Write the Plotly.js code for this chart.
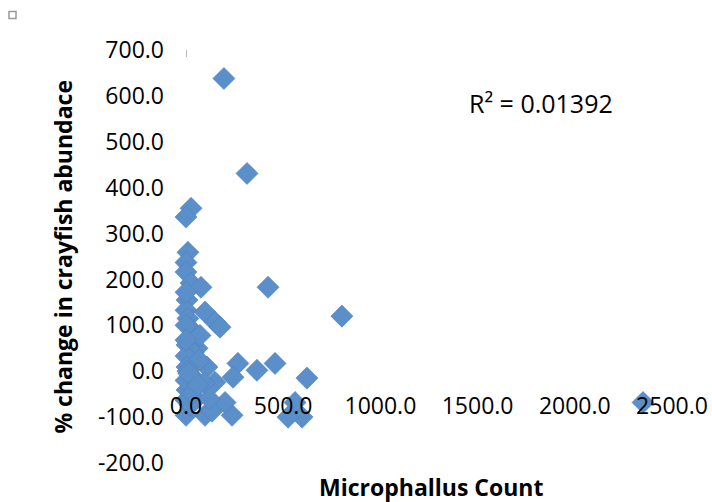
<!DOCTYPE html>
<html>
<head>
<meta charset="utf-8">
<script src="https://cdn.plot.ly/plotly-3.0.1.min.js"></script>
<style>html,body{margin:0;padding:0;background:#fff;}#chart{width:712px;height:502px;}</style>
</head>
<body>
<div id="chart"></div>
<script>
// Microphallus count per site
const microphallusCount = [
  195, 314, 422, 802, 2351, 622, 597, 561, 525, 458, 365, 267, 242, 237, 201, 149, 108, 57, 46, 98, 0,
  26, 0, 10, 0, 0, 26, 77, 5, 0, 98, 10, 149, 175, 21, 72, 5, 36, 0, 67, 5, 36, 93, 5, 46, 134, 21,
  0, 0, 0, 0, 10, 15, 0, 30, 60, 120
];
// % change in crayfish abundance
const crayfishChange = [
  638, 431, 183, 120, -68, -15, -100, -68, -100, 17, 2, 17, -13, -96, -68, -24, 9, 50, -35, -96, -96,
  355, 336, 259, 237, 216, 192, 183, 155, 133, 129, 115, 107, 96, 94, 78, 57, 41, 33, 24, 9, -13, -26, -41, -63, -87, -74,
  100, 68, -20, -63, 0, -5, 172, -50, -30, -60
];
const xTicks = [0, 500, 1000, 1500, 2000, 2500];
const yTicks = [-200, -100, 0, 100, 200, 300, 400, 500, 600, 700];
const rSquaredLabel = "R² = 0.01392";

const FONT = "Open Sans, Liberation Sans, sans-serif";

const trace = {
  x: microphallusCount,
  y: crayfishChange,
  mode: "markers",
  type: "scatter",
  cliponaxis: false,
  marker: {symbol: "diamond", size: 17, color: "#5B8FC9", line: {color: "#4F81BD", width: 0.6}},
  hoverinfo: "x+y"
};

const layout = {
  width: 712, height: 502,
  margin: {l: 186, r: 40, t: 50, b: 39},
  paper_bgcolor: "#fff", plot_bgcolor: "#fff",
  showlegend: false,
  font: {family: FONT, color: "#000"},
  xaxis: {
    range: [0, 2500],
    tickvals: xTicks,
    ticktext: xTicks.map(v => v.toFixed(1)),
    showgrid: false, zeroline: false, showline: false,
    anchor: "free", position: 200/900,
    ticks: "", ticklabelstandoff: 19,
    tickfont: {family: FONT, size: 23, color: "#000"}
  },
  yaxis: {
    range: [-200, 700],
    tickvals: yTicks,
    ticktext: yTicks.map(v => v.toFixed(1)),
    showgrid: false, zeroline: false, showline: false,
    ticks: "", ticklabelstandoff: 21,
    tickfont: {family: FONT, size: 23, color: "#000"}
  },
  annotations: [
    {text: "<b>Microphallus Count</b>", xref: "paper", yref: "paper", x: 0.504, y: -0.058,
     showarrow: false, xanchor: "center", yanchor: "middle", font: {family: FONT, size: 23, color: "#000"}},
    {text: "<b>% change in crayfish abundace</b>", xref: "paper", yref: "paper", x: -0.255, y: 0.5,
     textangle: -90, showarrow: false, xanchor: "center", yanchor: "middle", font: {family: FONT, size: 23, color: "#000"}},
    {text: rSquaredLabel, xref: "paper", yref: "paper", x: 0.73, y: 0.872,
     showarrow: false, xanchor: "center", yanchor: "middle", font: {family: FONT, size: 25, color: "#000"}}
  ],
  shapes: [
    {type: "rect", xref: "paper", yref: "paper", xsizemode: "pixel", ysizemode: "pixel",
     xanchor: -186/486, yanchor: (502-39-15)/413 + 0, x0: 9, x1: 16, y0: -3.5, y1: 3.5,
     line: {color: "#999", width: 1.5}, fillcolor: "rgba(0,0,0,0)"},
    {type: "line", xref: "x", yref: "y", ysizemode: "pixel", yanchor: 700,
     x0: 0, x1: 0, y0: -7, y1: 7, line: {color: "#a0a0a0", width: 1.5}}
  ]
};

Plotly.newPlot("chart", [trace], layout, {displayModeBar: false, staticPlot: true});
</script>
</body>
</html>
